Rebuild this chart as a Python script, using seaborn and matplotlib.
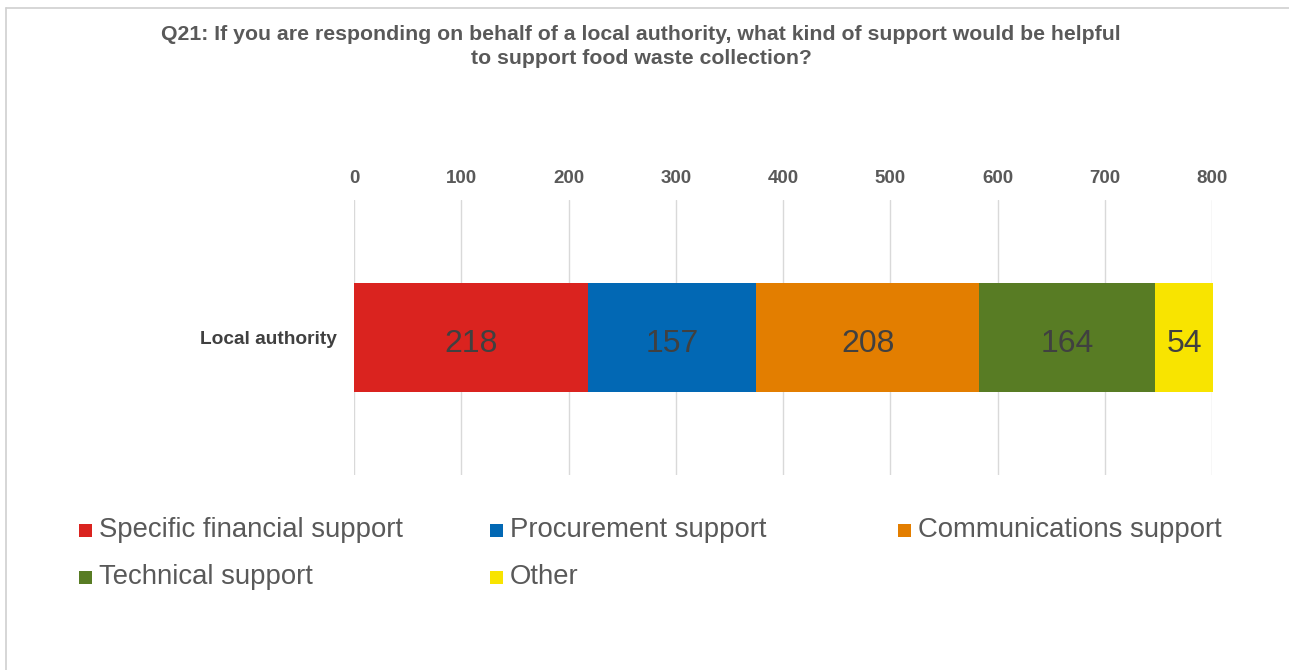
import matplotlib
matplotlib.use("Agg")
import matplotlib.pyplot as plt
from matplotlib.patches import Rectangle
from matplotlib.lines import Line2D
import numpy as np
import pandas as pd
import seaborn as sns

# Responses by support type for local authority respondents
category = "Local authority"
series = ["Specific financial support", "Procurement support",
          "Communications support", "Technical support", "Other"]
values = [218, 157, 208, 164, 54]
colors = ["#DA231F", "#0268B4", "#E37E00", "#587C24", "#F8E400"]
x_ticks = [0, 100, 200, 300, 400, 500, 600, 700, 800]
title = ("Q21: If you are responding on behalf of a local authority, what kind of support would be helpful\n"
         "to support food waste collection?")

sns.set_theme(style="white")
plt.rcParams["font.family"] = ["Liberation Sans", "DejaVu Sans"]

W, H = 1289, 670
fig = plt.figure(figsize=(W / 100, H / 100), dpi=100)
ax = fig.add_axes([354 / W, 1 - 475 / H, 858 / W, 275 / H])

# stacked bar: draw cumulative totals from longest to shortest so each layer shows its segment
cum = np.cumsum(values)
df = pd.DataFrame({"group": [category] * len(values), "series": series,
                   "value": values, "cum": cum, "left": cum - np.array(values)})
for i in range(len(series) - 1, -1, -1):
    sub = df.iloc[[i]]
    sns.barplot(data=sub, x="cum", y="group", color=colors[i], width=0.397,
                saturation=1, ax=ax, orient="h", linewidth=0, zorder=3)

for _, r in df.iterrows():
    ax.text(r["left"] + r["value"] / 2, 0.01, f"{r['value']}", ha="center",
            va="center_baseline", fontsize=23, color="#404040", zorder=4)

ax.set_xlim(0, 800)
ax.set_ylim(0.5, -0.5)
for p in ax.patches:
    p.set_clip_on(False)
ax.set_xticks(x_ticks)
ax.xaxis.tick_top()
ax.tick_params(axis="x", length=0, pad=9.5, labelsize=13.5, labelcolor="#595959")
ax.tick_params(axis="y", length=0, pad=12.5, labelsize=13.8, labelcolor="#404040")
for lab in ax.get_xticklabels() + ax.get_yticklabels():
    lab.set_fontweight("bold")
ax.set_xlabel("")
ax.set_ylabel("")
ax.grid(axis="x", color="#D9D9D9", linewidth=1, zorder=0)
ax.grid(axis="y", visible=False)
for s in ax.spines.values():
    s.set_visible(False)
ax.set_facecolor("none")

fig.text(641 / W, 1 - 46.5 / H, title, ha="center", va="center", fontsize=15.3,
         fontweight="bold", color="#595959", linespacing=1.32)

# legend laid out in fixed-width columns
col_x = [79, 490, 898]
row_y = [530, 577]
for i, name in enumerate(series):
    cx = col_x[i % 3]
    cy = row_y[i // 3]
    fig.patches.append(Rectangle((cx / W, 1 - (cy + 6.5) / H), 13 / W, 13 / H,
                                 transform=fig.transFigure, facecolor=colors[i],
                                 edgecolor="none"))
    fig.text((cx + 20) / W, 1 - cy / H, name, ha="left", va="center",
             fontsize=19.8, color="#595959")

# outer frame (top and left edges)
fig.add_artist(Line2D([6 / W, 1], [1 - 8 / H, 1 - 8 / H], transform=fig.transFigure,
                      color="#D0D0D0", linewidth=1.2))
fig.add_artist(Line2D([6 / W, 6 / W], [0, 1 - 8 / H], transform=fig.transFigure,
                      color="#D0D0D0", linewidth=1.2))

fig.savefig("out.png", dpi=100, facecolor="white")
